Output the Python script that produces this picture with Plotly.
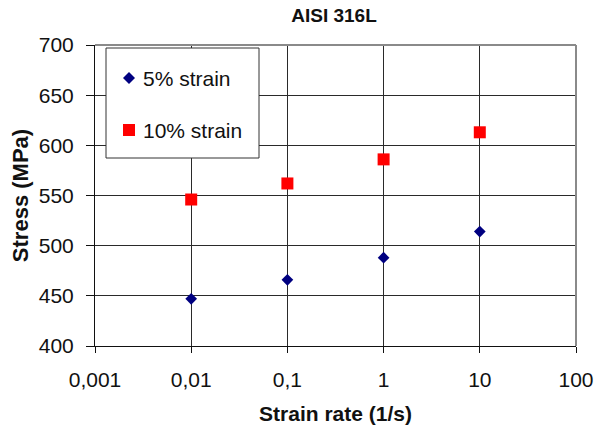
import plotly.graph_objects as go

# Strain rate (1/s) and flow stress (MPa) for AISI 316L
strain_rate = [0.01, 0.1, 1, 10]
stress_5pct = [447, 466, 488, 514]
stress_10pct = [546, 562, 586, 613]
series_names = ["5% strain", "10% strain"]

x_tickvals = [0.001, 0.01, 0.1, 1, 10, 100]
x_ticktext = ["0,001", "0,01", "0,1", "1", "10", "100"]
y_tickvals = [400, 450, 500, 550, 600, 650, 700]

FONT = "Liberation Sans, Arial, sans-serif"
W, H = 597, 432
ML, MR, MT, MB = 95, 21, 45, 86
PW, PH = W - ML - MR, H - MT - MB


def px(x):
    """Pixel column -> paper x."""
    return (x - ML) / PW


def py(y):
    """Pixel row -> paper y."""
    return (H - MB - y) / PH


BLUE = "#000080"
RED = "#ff0000"

fig = go.Figure()
fig.add_trace(go.Scatter(
    x=strain_rate, y=stress_5pct, mode="markers", name=series_names[0],
    marker=dict(symbol="diamond", size=9, color=BLUE), showlegend=False,
))
fig.add_trace(go.Scatter(
    x=strain_rate, y=stress_10pct, mode="markers", name=series_names[1],
    marker=dict(symbol="square", size=12, color=RED), showlegend=False,
))

shapes = [
    # lighter frame on the top and right edges
    dict(type="line", xref="paper", yref="paper", x0=0, x1=1, y0=1, y1=1,
         line=dict(color="#8a8a8a", width=2)),
    dict(type="line", xref="paper", yref="paper", x0=1, x1=1, y0=0, y1=1,
         line=dict(color="#8a8a8a", width=2)),
    # legend box
    dict(type="rect", xref="paper", yref="paper",
         x0=px(106), x1=px(259), y0=py(158), y1=py(48),
         fillcolor="white", line=dict(color="#333333", width=1), layer="above"),
    # legend glyphs
    dict(type="path", xref="paper", yref="paper",
         path=(f"M {px(123)},{py(78)} L {px(129)},{py(72)} "
               f"L {px(135)},{py(78)} L {px(129)},{py(84)} Z"),
         fillcolor=BLUE, line=dict(width=0), layer="above"),
    dict(type="rect", xref="paper", yref="paper",
         x0=px(123), x1=px(135), y0=py(136), y1=py(124),
         fillcolor=RED, line=dict(width=0), layer="above"),
]

annotations = [
    dict(text=series_names[0], xref="paper", yref="paper", x=px(141), y=py(78),
         xanchor="left", yanchor="middle", showarrow=False,
         font=dict(size=21, color="#111111")),
    dict(text=series_names[1], xref="paper", yref="paper", x=px(141), y=py(130),
         xanchor="left", yanchor="middle", showarrow=False,
         font=dict(size=21, color="#111111")),
]

fig.update_layout(
    width=W, height=H,
    margin=dict(l=ML, r=MR, t=MT, b=MB, autoexpand=False),
    paper_bgcolor="white", plot_bgcolor="white",
    font=dict(family=FONT, size=21, color="#111111"),
    title=dict(text="<b>AISI 316L</b>", x=334 / W, xanchor="center",
               y=1 - 15 / H, yanchor="middle",
               font=dict(size=19, color="#111111")),
    showlegend=False,
    shapes=shapes,
    annotations=annotations,
)
fig.update_xaxes(
    type="log", range=[-3, 2], automargin=False,
    tickvals=x_tickvals, ticktext=x_ticktext,
    showgrid=True, gridcolor="#2a2a2a", gridwidth=1,
    showline=True, linecolor="#111111", linewidth=1,
    ticks="outside", ticklen=6, tickcolor="#111111",
    ticklabelstandoff=9,
    title=dict(text="<b>Strain rate (1/s)</b>", font=dict(size=21), standoff=16),
    zeroline=False,
)
fig.update_yaxes(
    range=[400, 700], automargin=False, tickvals=y_tickvals,
    showgrid=True, gridcolor="#2a2a2a", gridwidth=1,
    showline=True, linecolor="#111111", linewidth=1,
    ticks="outside", ticklen=8, tickcolor="#111111",
    ticklabelstandoff=8,
    title=dict(text="<b>Stress (MPa)</b>", font=dict(size=22), standoff=4),
    zeroline=False,
)

fig.write_html("out.html")
